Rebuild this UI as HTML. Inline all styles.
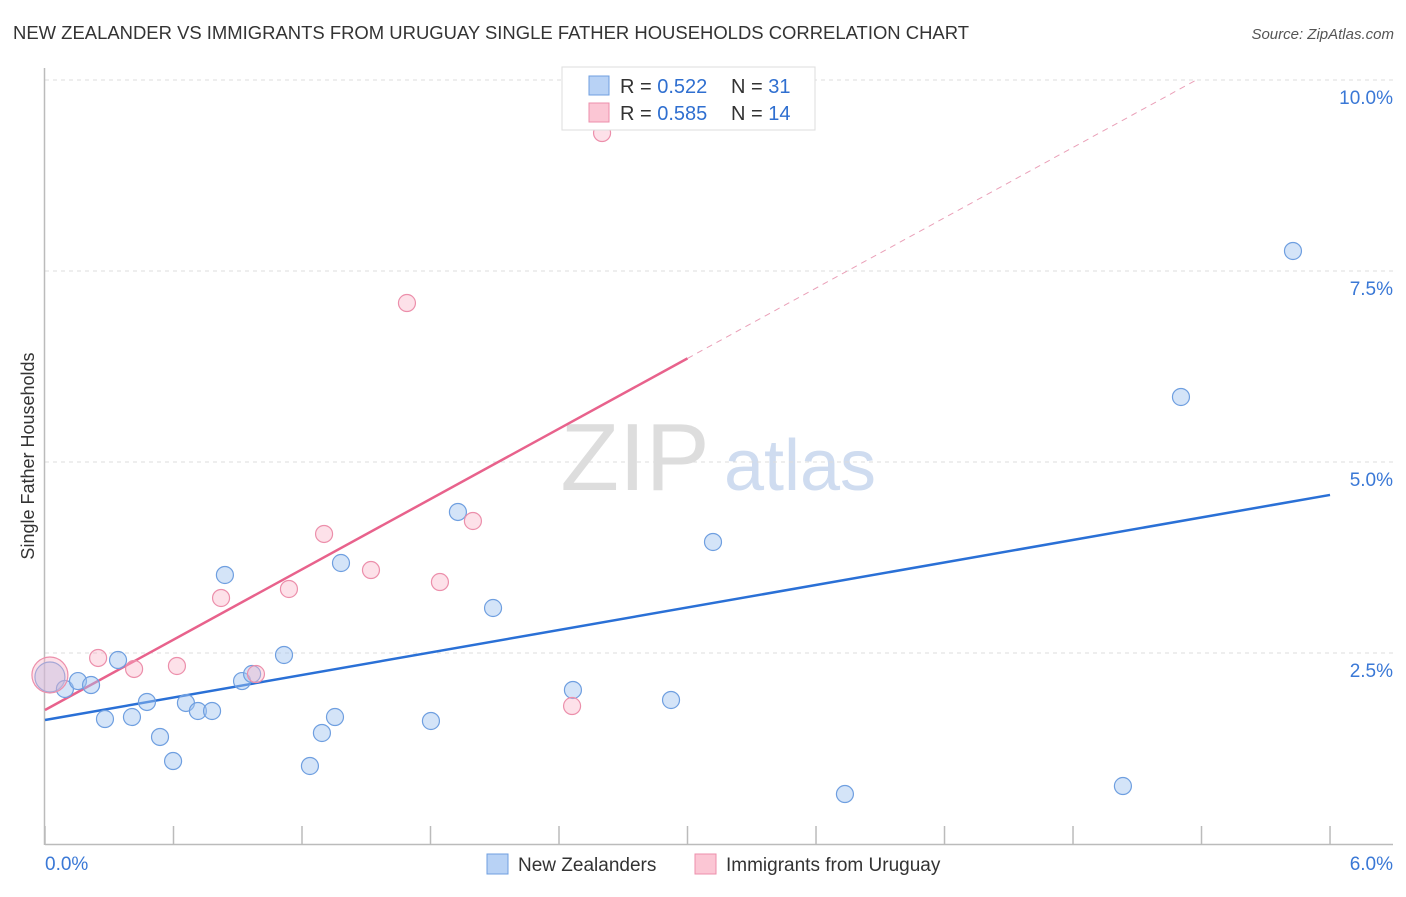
<!DOCTYPE html>
<html><head><meta charset="utf-8"><style>
body{margin:0;background:#fff;font-family:"Liberation Sans",sans-serif;}
svg text{font-family:"Liberation Sans",sans-serif;}
</style></head><body>
<svg id="chart" width="1406" height="892" xmlns="http://www.w3.org/2000/svg">
<text x="13" y="39" font-size="18" fill="#333" textLength="956" lengthAdjust="spacingAndGlyphs">NEW ZEALANDER VS IMMIGRANTS FROM URUGUAY SINGLE FATHER HOUSEHOLDS CORRELATION CHART</text>
<text x="1394" y="39" font-size="15" fill="#555" text-anchor="end" font-style="italic">Source: ZipAtlas.com</text>
<text transform="translate(34,456) rotate(-90)" font-size="18" fill="#333" text-anchor="middle">Single Father Households</text>
<g>
<text x="635" y="490" font-size="96" fill="#ddd" text-anchor="middle" font-family="Liberation Serif, serif">ZIP</text>
<text x="800" y="490" font-size="72" fill="#cfdcf0" text-anchor="middle">atlas</text>
</g>
<g id="grid"></g><g id="axes"></g><g id="lines"></g><g id="points"></g>
<g>
<rect x="562" y="67" width="253" height="63" fill="#fff" stroke="#ddd"/>
<rect x="589" y="76" width="20" height="19" fill="#b8d2f5" stroke="#6f9fe0"/>
<rect x="589" y="103" width="20" height="19" fill="#fbc6d4" stroke="#ec8fab"/>
<text x="620" y="93" font-size="20" fill="#333">R = <tspan fill="#2f6fd0">0.522</tspan></text>
<text x="731" y="93" font-size="20" fill="#333">N = <tspan fill="#2f6fd0">31</tspan></text>
<text x="620" y="120" font-size="20" fill="#333">R = <tspan fill="#2f6fd0">0.585</tspan></text>
<text x="731" y="120" font-size="20" fill="#333">N = <tspan fill="#2f6fd0">14</tspan></text>
</g>
<g>
<rect x="487" y="854" width="21" height="20" fill="#b8d2f5" stroke="#6f9fe0"/>
<text x="518" y="871" font-size="19" fill="#333">New Zealanders</text>
<rect x="695" y="854" width="21" height="20" fill="#fbc6d4" stroke="#ec8fab"/>
<text x="726" y="871" font-size="19" fill="#333">Immigrants from Uruguay</text>
</g>
</svg>
<script>
const yTicks=[2.5,5,7.5,10];
const yTickLabels=["2.5%","5.0%","7.5%","10.0%"];
const xTickValues=[0,0.6,1.2,1.8,2.4,3.0,3.6,4.2,4.8,5.4,6.0];
const xTickLabels=["0.0%","6.0%"];
const nzX=[0.023,0.093,0.154,0.215,0.280,0.341,0.406,0.476,0.537,0.598,0.658,0.714,0.780,0.840,0.920,0.967,1.116,1.237,1.293,1.354,1.382,1.802,1.928,2.092,2.465,2.923,3.119,3.735,5.033,5.304,5.827];
const nzY=[2.186,2.029,2.133,2.081,1.636,2.408,1.662,1.859,1.401,1.086,1.846,1.741,1.741,3.521,2.133,2.225,2.474,1.021,1.453,1.662,3.678,1.610,4.346,3.089,2.016,1.885,3.953,0.654,0.759,5.851,7.762];
const uyX=[0.023,0.248,0.416,0.616,0.822,0.985,1.139,1.303,1.522,1.690,1.844,1.998,2.461,2.601];
const uyY=[2.212,2.435,2.291,2.330,3.220,2.225,3.338,4.058,3.586,7.081,3.429,4.228,1.806,9.306];
const nzTrend=[1.623,0.491]; // intercept, slope
const uyTrend=[1.754,1.534];
const uyTrendSolidEnd=3.0;
const sx=v=>45+v*214.17, sy=v=>844-v*76.4;
const NS="http://www.w3.org/2000/svg";
function mk(parent,tag,attrs){const e=document.createElementNS(NS,tag);for(const k in attrs)e.setAttribute(k,attrs[k]);document.getElementById(parent).appendChild(e);return e;}
yTicks.forEach((t,i)=>{
 const l=mk('grid','line',{x1:45,x2:1393,y1:sy(t),y2:sy(t),stroke:'#ddd','stroke-dasharray':'4,4'});
 
 
 const tx=mk('grid','text',{x:1393,y:sy(t)+24,'font-size':19,fill:'#3a78d6','text-anchor':'end'});
 tx.textContent=yTickLabels[i];
 
 
});
const ax=mk('axes','line',{x1:45,x2:1393,y1:844.5,y2:844.5,stroke:'#bbb','stroke-width':1.5});


const ay=mk('axes','line',{x1:44.5,x2:44.5,y1:68,y2:845,stroke:'#bbb','stroke-width':1.5});


xTickValues.forEach(v=>{const t=mk('axes','line',{x1:sx(v),x2:sx(v),y1:826,y2:845,stroke:'#bbb','stroke-width':1.5});
 
 });
const xl0=mk('axes','text',{x:45,y:870,'font-size':19,fill:'#3a78d6'});xl0.textContent=xTickLabels[0];


const xl1=mk('axes','text',{x:1393,y:870,'font-size':19,fill:'#3a78d6','text-anchor':'end'});xl1.textContent=xTickLabels[1];


const nl=mk('lines','line',{x1:sx(0),y1:sy(nzTrend[0]),x2:sx(6),y2:sy(nzTrend[0]+6*nzTrend[1]),stroke:'#2a70d6','stroke-width':2.5});


const ul=mk('lines','line',{x1:sx(0),y1:sy(uyTrend[0]),x2:sx(uyTrendSolidEnd),y2:sy(uyTrend[0]+uyTrendSolidEnd*uyTrend[1]),stroke:'#e8628c','stroke-width':2.5});


const xe=(10.0-uyTrend[0])/uyTrend[1];
const ud=mk('lines','line',{x1:sx(uyTrendSolidEnd),y1:sy(uyTrend[0]+uyTrendSolidEnd*uyTrend[1]),x2:sx(xe),y2:sy(10.0),stroke:'#eaa0b8','stroke-width':1,'stroke-dasharray':'6,5'});


nzX.forEach((x,i)=>{const c=mk('points','circle',{cx:sx(x),cy:sy(nzY[i]),r:i===0?15:8.5,fill:'rgba(160,196,240,0.45)',stroke:'#6f9fe0','stroke-width':1.2});
 
 });
uyX.forEach((x,i)=>{const c=mk('points','circle',{cx:sx(x),cy:sy(uyY[i]),r:i===0?18:8.5,fill:'rgba(250,180,200,0.4)',stroke:'#ec8fab','stroke-width':1.2});
 
 });
</script>
</body></html>
